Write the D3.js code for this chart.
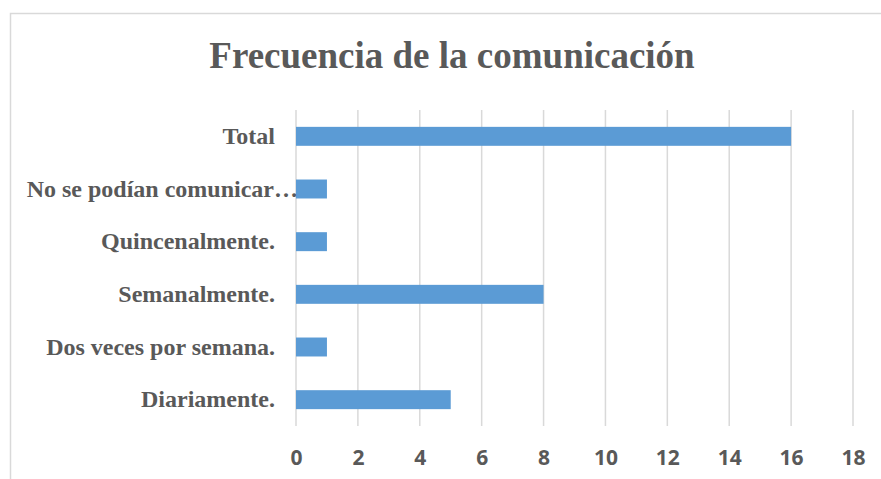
<!DOCTYPE html>
<html>
<head>
<meta charset="utf-8">
<script src="https://cdn.jsdelivr.net/npm/d3@7"></script>
<style>
  body { margin: 0; background: #fff; }
</style>
</head>
<body>
<div id="chart"></div>
<script>
// data
var categories = ["Diariamente.", "Dos veces por semana.", "Semanalmente.", "Quincenalmente.", "No se podían comunicar…", "Total"];
var values = [5, 1, 8, 1, 1, 16];
var xTicks = [0, 2, 4, 6, 8, 10, 12, 14, 16, 18];
var title = "Frecuencia de la comunicación";

var W = 881, H = 479;
var margin = {top: 110, right: 28, bottom: 53, left: 296};
var width = W - margin.left - margin.right,
    height = H - margin.top - margin.bottom;

var svg = d3.select("#chart").append("svg")
    .attr("width", W)
    .attr("height", H);

// chart area border (only top and left visible)
svg.append("rect")
    .attr("x", 10.5).attr("y", 13.5)
    .attr("width", W + 20).attr("height", H + 20)
    .attr("fill", "none")
    .attr("stroke", "#d9d9d9")
    .attr("stroke-width", 1.5);

svg.append("text")
    .attr("x", 452).attr("y", 68)
    .attr("text-anchor", "middle")
    .style("font-family", "'Liberation Serif', 'Times New Roman', serif")
    .style("font-weight", "bold")
    .style("font-size", "37px")
    .style("fill", "#595959")
    .text(title);

var g = svg.append("g")
    .attr("transform", "translate(" + margin.left + "," + margin.top + ")");

var x = d3.scaleLinear().domain([0, 18]).range([0, width]);
var rows = categories.slice().reverse();
var y = d3.scaleBand().domain(rows).range([0, height]).paddingInner(0.64).paddingOuter(0.32);

// gridlines
g.selectAll(".grid")
  .data(xTicks)
  .enter().append("line")
    .attr("x1", function(d) { return x(d); })
    .attr("x2", function(d) { return x(d); })
    .attr("y1", 0).attr("y2", height)
    .attr("stroke", "#d9d9d9")
    .attr("stroke-width", 1.5);

// bars
g.selectAll(".bar")
  .data(categories.map(function(c, i) { return {cat: c, v: values[i]}; }))
  .enter().append("rect")
    .attr("x", x(0))
    .attr("y", function(d) { return y(d.cat); })
    .attr("width", function(d) { return x(d.v) - x(0); })
    .attr("height", y.bandwidth())
    .attr("fill", "#5b9bd5");

// x axis
var xAxis = g.append("g")
    .attr("transform", "translate(0," + height + ")")
    .call(d3.axisBottom(x).tickValues(xTicks).tickSize(0).tickPadding(24));
xAxis.select(".domain").remove();
xAxis.selectAll("text")
    .style("font-family", "'Open Sans', sans-serif")
    .style("font-weight", "bold")
    .style("font-size", "21px")
    .style("fill", "#595959");

// y axis labels
var yAxis = g.append("g")
    .call(d3.axisLeft(y).tickSize(0).tickPadding(21));
yAxis.select(".domain").remove();
yAxis.selectAll("text")
    .style("font-family", "'Liberation Serif', 'Times New Roman', serif")
    .style("font-weight", "bold")
    .style("font-size", "24px")
    .style("fill", "#595959")
    .attr("x", function(d) { return d.slice(-1) === "…" ? 2 : -21; });
</script>
</body>
</html>
